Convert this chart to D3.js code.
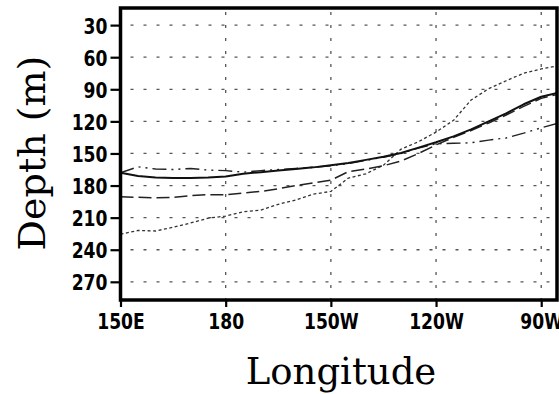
<!DOCTYPE html>
<html>
<head>
<meta charset="utf-8">
<script src="https://cdn.jsdelivr.net/npm/d3@7"></script>
<style>
  html, body { margin: 0; padding: 0; background: #fff; }
  svg { display: block; }
</style>
</head>
<body>
<svg id="chart" width="559" height="394"></svg>
<script>
// ---- data (longitude in degrees east, depth in metres) ----
const lons = [150,155,160,165,170,175,180,185,190,195,200,205,210,215,220,225,230,235,240,245,250,255,260,265,270,275];
const depthSolid   = [168,171,172.5,173,173,172.5,171.5,169,167.5,166,164.5,163,161,159,156,153,149.5,144.5,139.5,134,127.5,120,112.5,104,97,93];
const depthLongDash= [190.5,191,191.5,191,189.5,188.5,188.5,187,185.5,183,180,177.5,175,167,164.5,161.5,157,150,142,135,128.5,121.5,114,106,98.5,94.5];
const depthDashDot = [168,162.5,164.5,165,164,165.5,166,167.5,166,165,164,163,161.5,159.5,156.5,153.5,150,145,141,140.5,140,137.5,135.5,131,126,121.5];
const depthDotted  = [225.5,222,222.5,219,215,210.5,208.5,204.5,203,197.5,193.5,188,185.5,173,169,161,146,139,130,119,100,89.5,82,75,71,68];

const xTickValues = [150,180,210,240,270];
const xTickLabels = ["150E","180","150W","120W","90W"];
const yTickValues = [30,60,90,120,150,180,210,240,270];
const yTickLabels = ["30","60","90","120","150","180","210","240","270"];

const series = [
  {name:"dotted",   values: depthDotted,   dash:"3,2.5", width:1.3, color:"#333"},
  {name:"dashdot",  values: depthDashDot,  dash:"14,5,2,5,2,5", width:1.4, color:"#222"},
  {name:"longdash", values: depthLongDash, dash:"13,5", width:1.5, color:"#222"},
  {name:"solid",    values: depthSolid,    dash:null,   width:2,   color:"#111"}
];

// ---- layout ----
const L = 120.5, R = 557, T = 8, B = 300;
const svg = d3.select("#chart");
const x = d3.scaleLinear().domain([150, 274.5]).range([L, R]);
const y = d3.scaleLinear().domain([14, 287]).range([T, B]);

svg.append("defs").append("clipPath").attr("id","clip")
  .append("rect").attr("x", L).attr("y", T).attr("width", R - L).attr("height", B - T);

// grid
const grid = svg.append("g").attr("stroke", "#555").attr("stroke-width", 1.3).attr("stroke-dasharray", "3,10");
grid.selectAll("line.h").data(yTickValues).join("line")
  .attr("x1", L + 10).attr("x2", R).attr("y1", d => y(d)).attr("y2", d => y(d));
grid.selectAll("line.v").data(xTickValues.slice(1)).join("line")
  .attr("y1", T + 4).attr("y2", B).attr("x1", d => x(d)).attr("x2", d => x(d));

// lines
const line = d3.line().x((d, i) => x(lons[i])).y(d => y(d)).curve(d3.curveLinear);
const lg = svg.append("g").attr("clip-path", "url(#clip)");
series.forEach(s => {
  lg.append("path").datum(s.values)
    .attr("d", line)
    .attr("fill", "none")
    .attr("stroke", s.color)
    .attr("stroke-width", s.width)
    .attr("stroke-dasharray", s.dash)
    .attr("stroke-linejoin", "round");
});

// frame
svg.append("rect").attr("x", L).attr("y", T).attr("width", R - L).attr("height", B - T)
  .attr("fill", "none").attr("stroke", "#000").attr("stroke-width", 3.5);

// y axis ticks & labels
const yAxis = d3.axisLeft(y).tickValues(yTickValues).tickSize(10)
  .tickFormat((d, i) => yTickLabels[i]);
const ya = svg.append("g").attr("transform", `translate(${L},0)`).call(yAxis);
ya.select(".domain").remove();
ya.selectAll(".tick line").attr("stroke", "#000").attr("stroke-width", 2.2);
ya.selectAll(".tick text").remove();
ya.selectAll(".tick").append("text")
  .attr("transform", "translate(-13,8) scale(0.78,1)")
  .attr("text-anchor", "end")
  .attr("fill", "#000")
  .style("font-family", "'DejaVu Sans', sans-serif")
  .style("font-weight", "bold")
  .style("font-size", "22px")
  .text((d, i) => yTickLabels[i]);

// x axis ticks & labels
const xAxis = d3.axisBottom(x).tickValues(xTickValues).tickSize(7)
  .tickFormat((d, i) => xTickLabels[i]);
const xa = svg.append("g").attr("transform", `translate(0,${B})`).call(xAxis);
xa.select(".domain").remove();
xa.selectAll(".tick line").attr("stroke", "#000").attr("stroke-width", 2.2);
xa.selectAll(".tick text").remove();
xa.selectAll(".tick").append("text")
  .attr("transform", "translate(0,29) scale(0.78,1)")
  .attr("text-anchor", "middle")
  .attr("fill", "#000")
  .style("font-family", "'DejaVu Sans', sans-serif")
  .style("font-weight", "bold")
  .style("font-size", "22px")
  .text((d, i) => xTickLabels[i]);

// axis titles
svg.append("text")
  .attr("x", 341).attr("y", 384)
  .attr("text-anchor", "middle")
  .style("font-family", "'DejaVu Serif', serif")
  .style("font-size", "37px")
  .attr("fill", "#000")
  .text("Longitude");

svg.append("text")
  .attr("transform", "translate(45,153) rotate(-90)")
  .attr("text-anchor", "middle")
  .style("font-family", "'DejaVu Serif', serif")
  .style("font-size", "38px")
  .attr("fill", "#000")
  .text("Depth (m)");
</script>
</body>
</html>
